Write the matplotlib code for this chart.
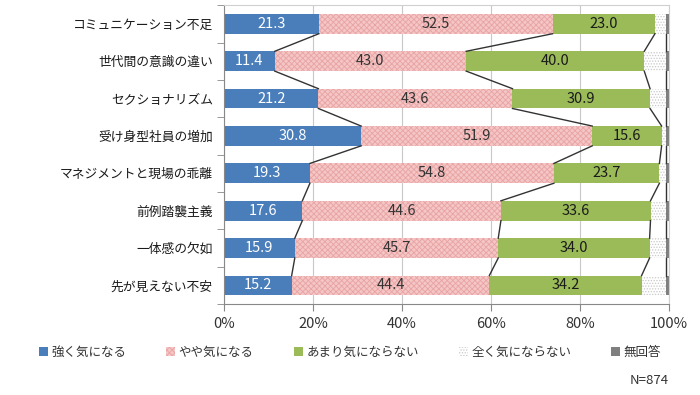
import matplotlib
matplotlib.use('Agg')
import matplotlib.pyplot as plt
from matplotlib.patches import Patch
import numpy as np

plt.rcParams['font.family'] = ['Noto Sans CJK JP', 'DejaVu Sans']
plt.rcParams['hatch.linewidth'] = 0.6

categories = ['コミュニケーション不足', '世代間の意識の違い', 'セクショナリズム', '受け身型社員の増加',
              'マネジメントと現場の乖離', '前例踏襲主義', '一体感の欠如', '先が見えない不安']
strong = [21.3, 11.4, 21.2, 30.8, 19.3, 17.6, 15.9, 15.2]
somewhat = [52.5, 43.0, 43.6, 51.9, 54.8, 44.6, 45.7, 44.4]
not_much = [23.0, 40.0, 30.9, 15.6, 23.7, 33.6, 34.0, 34.2]
not_at_all = [2.4, 4.8, 3.5, 0.9, 1.4, 3.4, 3.6, 5.4]
no_answer = [0.8, 0.8, 0.8, 0.8, 0.8, 0.8, 0.8, 0.8]
series_names = ['強く気になる', 'やや気になる', 'あまり気にならない', '全く気にならない', '無回答']
x_ticks = [0, 20, 40, 60, 80, 100]
x_ticklabels = ['0%', '20%', '40%', '60%', '80%', '100%']
n_label = 'N=874'

series = [strong, somewhat, not_much, not_at_all, no_answer]
styles = [
    dict(color='#4a7ebb', hatch=None, edge='#4a7ebb'),
    dict(color='#f4c6c6', hatch='xxxxxx', edge='#e9a3a3'),
    dict(color='#9bbb59', hatch=None, edge='#9bbb59'),
    dict(color='#ffffff', hatch='......', edge='#c8c8c8'),
    dict(color='#7f7f7f', hatch=None, edge='#7f7f7f'),
]
text_colors = ['white', '#333333', '#1a1a1a', None, None]

fig = plt.figure(figsize=(7, 3.95), dpi=100)
ax = fig.add_axes([0.32, 0.23, 0.636, 0.757])

y = np.arange(len(categories))
h = 0.53
left = np.zeros(len(categories))
cums = []
for vals, st, tc in zip(series, styles, text_colors):
    vals = np.array(vals)
    ax.barh(y, vals, left=left, height=h, color=st['color'], hatch=st['hatch'],
            edgecolor=st['edge'], linewidth=0, zorder=2)
    if tc is not None:
        for yi, l, v in zip(y, left, vals):
            ax.text(l + v / 2, yi, f'{v:.1f}', ha='center', va='center',
                    color=tc, fontsize=10.5, zorder=4)
    left = left + vals
    cums.append(left.copy())

# series lines between bars
for cum in cums[:4]:
    for i in range(len(categories) - 1):
        ax.plot([cum[i], cum[i + 1]], [y[i] + h / 2, y[i + 1] - h / 2],
                color='#333333', lw=1, zorder=3)

ax.set_xlim(0, 100)
ax.set_ylim(len(categories) - 0.5, -0.5)
ax.set_xticks(x_ticks)
ax.set_xticklabels(x_ticklabels, fontsize=10.5, color='#333333')
ax.set_yticks(y)
ax.set_yticklabels(categories, fontsize=9.2, color='#1a1a1a')
ax.set_yticks(np.arange(len(categories) + 1) - 0.5, minor=True)
ax.tick_params(axis='y', which='major', length=0, pad=8)
ax.tick_params(axis='y', which='minor', length=5, color='#888888')
ax.tick_params(axis='x', length=5, color='#888888', pad=4)
ax.grid(axis='x', color='#c8c8c8', lw=0.8, zorder=0)
for s in ['top', 'right']:
    ax.spines[s].set_color('#d0d0d0')
for s in ['left', 'bottom']:
    ax.spines[s].set_color('#888888')

handles = [Patch(facecolor=st['color'], hatch=st['hatch'], edgecolor=st['edge'], linewidth=0)
           for st in styles]
fig.legend(handles, series_names, loc='center', bbox_to_anchor=(0.5, 1 - 352 / 395),
           ncol=5, frameon=False, fontsize=9, handlelength=0.7, handleheight=0.7,
           handletextpad=0.3, columnspacing=3.2, labelcolor='#333333')
fig.text(0.955, 1 - 381 / 395, n_label, ha='right', va='center', fontsize=9.5, color='#333333')

fig.savefig('out.png', dpi=100)
